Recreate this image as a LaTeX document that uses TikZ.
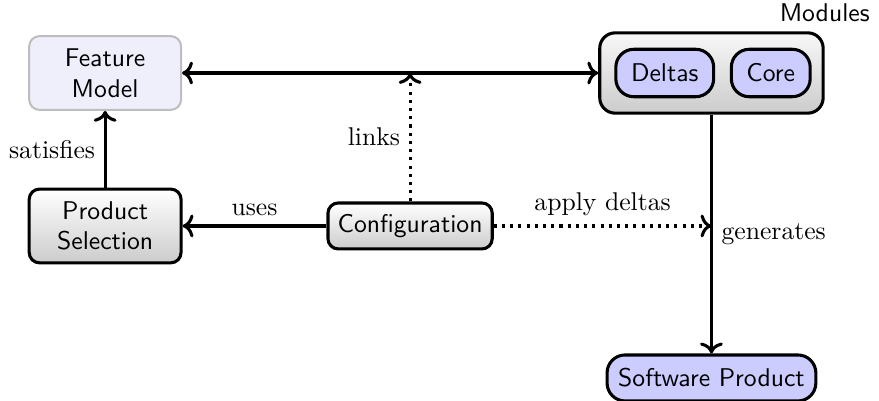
\documentclass[tikz,border=0pt]{standalone}
\usepackage{tikz}
\usetikzlibrary{positioning, arrows.meta, calc}

\definecolor{fmfill}{RGB}{239,239,252}
\definecolor{fmdraw}{RGB}{190,190,190}
\definecolor{modfill}{RGB}{204,204,255}

\begin{document}
\begin{tikzpicture}[
            box/.style={draw=black, very thick, rectangle, rounded corners=4pt, align=center, font=\sffamily, top color=white, bottom color=black!20},
            featbox/.style={draw=fmdraw, thick, rectangle, rounded corners=4pt, align=center, font=\sffamily, fill=fmfill},
            modbox/.style={draw=black, very thick, rectangle, rounded corners=7pt, font=\sffamily, fill=modfill, minimum height=0.65cm},
            edge/.style={very thick},
            edgelabel/.style={font=\normalsize}
        ]

        \useasboundingbox (-1.44,1.00) rectangle (10.60,-4.49);

        % Knoten
        \node[featbox, minimum width=2.08cm, minimum height=1.01cm] (fm) at (0,0) {Feature\\Model};
        \node[box, minimum width=2.08cm, minimum height=1.01cm, below=1.05cm of fm] (ps) {Product\\Selection};
        \node[box, minimum width=2.25cm, minimum height=0.63cm, right=1.97cm of ps] (conf) {Configuration};
        \node[box, rounded corners=6pt, top color=black!3, minimum width=3.06cm, minimum height=1.10cm, right=5.70cm of fm] (mod) {};
        \node[font=\sffamily, anchor=south] (modlabel) at (mod.north east) {Modules};
        \node[modbox, minimum width=1.34cm, anchor=west, xshift=0.22cm] (deltas) at (mod.west) {Deltas};
        \node[modbox, minimum width=1.08cm, right=0.2cm of deltas] (core) {Core};
        \node[modbox, minimum width=2.86cm, minimum height=0.63cm, below=3.27cm of mod] (sp) {Software Product};

        \coordinate (linkend) at (conf.north |- fm.east);
        \coordinate (applyend) at (mod.south |- conf.east);

        % Kanten
        \draw[edge, <->] (fm.east) -- (mod.west);
        \draw[edge, ->] (ps.north) -- (fm.south) node[midway, left, edgelabel] {satisfies};
        \draw[edge, ->] (conf.west) -- (ps.east) node[midway, above, edgelabel] {uses};
        \draw[edge, dotted, ->] (conf.north) -- (linkend) node[midway, left, edgelabel] {links};
        \draw[edge, dotted, ->] (conf.east) -- (applyend) node[midway, above, edgelabel] {apply deltas};
        \draw[edge, ->] (mod.south) -- (sp.north) node[midway, right, edgelabel] {generates};

    \end{tikzpicture}
\end{document}
